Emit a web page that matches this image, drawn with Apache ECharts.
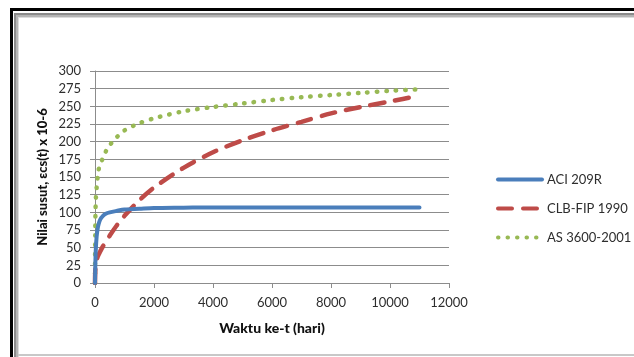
<!DOCTYPE html>
<html>
<head>
<meta charset="utf-8">
<script src="https://cdn.jsdelivr.net/npm/echarts@6/dist/echarts.min.js"></script>
<style>
  html, body { margin: 0; padding: 0; background: #ffffff; }
  #chart { width: 634px; height: 357px; }
</style>
</head>
<body>
<div id="chart"></div>
<script>
// Age of concrete in days (sample points of each shrinkage curve)
const days = [0, 3, 7, 14, 28, 56, 90, 120, 180, 270, 365, 500, 730, 1000, 1500, 2000,
  3000, 4000, 5000, 6000, 7000, 8000, 9000, 10000, 11000];

// Shrinkage strain εcs(t) x 10-6 per model
const aci209R = [0, 8, 18, 31, 48, 66, 77, 83, 90, 95, 98, 100, 102, 104, 105, 106,
  106.5, 107, 107, 107, 107, 107, 107, 107, 107];
const ceb1990 = [0, 9, 14, 20, 27, 32, 37, 40, 45, 52, 58, 67, 81, 95, 117, 135,
  163, 185, 202, 216, 228, 240, 249, 257, 265];
const as3600 = [0, 40, 65, 95, 118, 135, 150, 160, 168, 177, 186, 195, 206, 216, 226, 233,
  243, 249, 254, 259, 263, 266, 269, 272, 274];

const seriesNames = ['ACI 209R', 'CLB-FIP 1990', 'AS 3600-2001'];
const xTicks = { min: 0, max: 12000, interval: 2000 };
const yTicks = { min: 0, max: 300, interval: 25 };

const pairs = vals => days.map((d, i) => [d, vals[i]]);

const font = 'Lato, "Noto Sans", sans-serif';
const axisGray = '#8c8c8c';

const chart = echarts.init(document.getElementById('chart'), null, { renderer: 'canvas' });

chart.setOption({
  animation: false,
  backgroundColor: '#ffffff',
  textStyle: { fontFamily: font },
  grid: { left: 95, right: 185, top: 71, bottom: 74, containLabel: false },
  xAxis: {
    type: 'value',
    min: xTicks.min, max: xTicks.max, interval: xTicks.interval,
    name: 'Waktu ke-t (hari)',
    nameLocation: 'middle',
    nameGap: 38,
    nameTextStyle: { fontFamily: font, fontSize: 14, fontWeight: 900, color: '#111111' },
    axisLine: { show: true, lineStyle: { color: axisGray, width: 1 } },
    axisTick: { show: true, inside: false, length: 5, lineStyle: { color: axisGray } },
    axisLabel: { fontFamily: font, fontSize: 13, color: '#2e2e2e', margin: 13,
      formatter: v => String(v) },
    splitLine: { show: false }
  },
  yAxis: {
    type: 'value',
    min: yTicks.min, max: yTicks.max, interval: yTicks.interval,
    name: 'Nilai susut, εcs(t) x 10-6',
    nameLocation: 'middle',
    nameGap: 46,
    nameMoveOverlap: false,
    nameRotate: 90,
    nameTextStyle: { fontFamily: font, fontSize: 13, fontWeight: 900, color: '#111111' },
    axisLine: { show: true, lineStyle: { color: axisGray, width: 1 } },
    axisTick: { show: true, inside: false, length: 5, lineStyle: { color: axisGray } },
    axisLabel: { fontFamily: font, fontSize: 13, color: '#2e2e2e', margin: 14,
      formatter: v => String(v) },
    splitLine: { show: true, lineStyle: { color: axisGray, width: 1 } }
  },
  legend: {
    orient: 'vertical',
    left: 491,
    top: 168,
    itemWidth: 44,
    itemHeight: 14,
    itemGap: 16,
    itemStyle: { opacity: 0 },
    lineStyle: { width: 4 },
    textStyle: { fontFamily: font, fontSize: 13, color: '#2e2e2e' },
    data: seriesNames
  },
  series: [
    {
      name: seriesNames[0], type: 'line', data: pairs(aci209R),
      showSymbol: false, symbol: 'none', smooth: 0.3, z: 3,
      color: '#4a7ebb',
      lineStyle: { color: '#4a7ebb', width: 4, cap: 'round' }
    },
    {
      name: seriesNames[1], type: 'line', data: pairs(ceb1990),
      showSymbol: false, symbol: 'none', smooth: 0.3, z: 2,
      color: '#be4b48',
      lineStyle: { color: '#be4b48', width: 4.5, type: [14, 11], cap: 'round' }
    },
    {
      name: seriesNames[2], type: 'line', data: pairs(as3600),
      showSymbol: false, symbol: 'none', smooth: 0.3, z: 1,
      color: '#98b954',
      lineStyle: { color: '#98b954', width: 4.5, type: [0.5, 9], cap: 'round' }
    }
  ],
  graphic: [
    // outer frame: dark edge plus grey bevel
    { type: 'rect', silent: true, shape: { x: 10, y: 8, width: 3, height: 349 }, style: { fill: '#000000' } },
    { type: 'rect', silent: true, shape: { x: 10, y: 8, width: 624, height: 3 }, style: { fill: '#000000' } },
    { type: 'rect', silent: true, shape: { x: 14, y: 13, width: 2, height: 344 }, style: { fill: '#8a8a8a' } },
    { type: 'rect', silent: true, shape: { x: 16, y: 13, width: 2, height: 344 }, style: { fill: '#b4b4b4' } },
    { type: 'rect', silent: true, shape: { x: 18, y: 13, width: 1, height: 344 }, style: { fill: '#dcdcdc' } },
    { type: 'rect', silent: true, shape: { x: 14, y: 13, width: 620, height: 2 }, style: { fill: '#8a8a8a' } },
    { type: 'rect', silent: true, shape: { x: 16, y: 15, width: 618, height: 2 }, style: { fill: '#b4b4b4' } },
    { type: 'rect', silent: true, shape: { x: 18, y: 17, width: 616, height: 1 }, style: { fill: '#dcdcdc' } },
    { type: 'rect', silent: true, shape: { x: 18, y: 354, width: 616, height: 2 }, style: { fill: '#c8c8c8' } }
  ]
});
</script>
</body>
</html>
